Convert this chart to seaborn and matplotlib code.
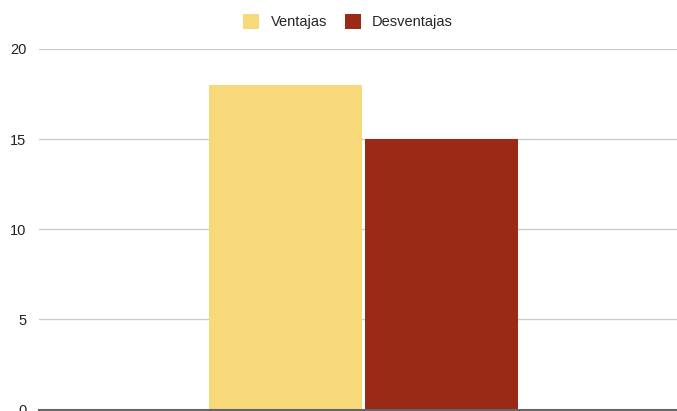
import pandas as pd
import seaborn as sns
import matplotlib.pyplot as plt
from matplotlib.patches import Patch

categories = [""]
series_names = ["Ventajas", "Desventajas"]
values = [18, 15]
colors = ["#F8D97A", "#9A2A15"]
yticks = [0, 5, 10, 15, 20]

df = pd.DataFrame({
    "cat": categories * len(series_names),
    "serie": series_names,
    "valor": values,
})

sns.set_style("white")
plt.rcParams['font.family'] = ['Liberation Sans', 'DejaVu Sans']

fig = plt.figure(figsize=(6.77, 4.11), dpi=100)
ax = fig.add_axes([39 / 677, 1.5 / 411, 1 - 39 / 677, (409.5 - 49) / 411])

sns.barplot(data=df, x="cat", y="valor", hue="serie", palette=colors,
            width=0.8, gap=0.02, saturation=1, linewidth=0,
            ax=ax, legend=False)

ax.set_ylim(0, 20)
ax.set_xlim(-0.832, 0.802)
ax.set_yticks(yticks)
ax.set_yticklabels([str(t) for t in yticks], fontsize=10.5, color="#222222")
ax.set_xticks([])
ax.set_xlabel("")
ax.set_ylabel("")
ax.tick_params(axis="y", length=0, pad=9)
ax.grid(axis="y", color="#cccccc", linewidth=1)
ax.set_axisbelow(True)
for s in ["top", "right", "left"]:
    ax.spines[s].set_visible(False)
ax.spines["bottom"].set_color("#666666")
ax.spines["bottom"].set_linewidth(1.5)
ax.spines["bottom"].set_zorder(5)

handles = [Patch(facecolor=c, edgecolor="none") for c in colors]
fig.legend(handles, series_names, loc="upper center",
           bbox_to_anchor=(348 / 677, 1.0), ncol=2, frameon=False,
           fontsize=10.5, handlelength=1.1, handleheight=1.25,
           handletextpad=0.8, columnspacing=1.2, borderaxespad=0.55)

fig.savefig("out.png", dpi=100)
